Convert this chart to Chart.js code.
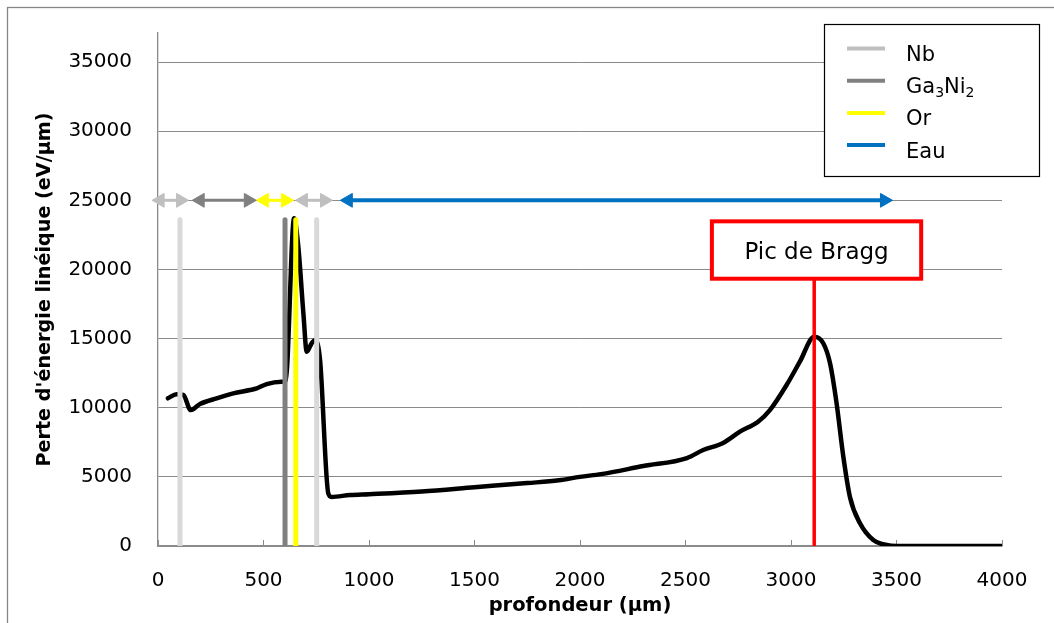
<!DOCTYPE html>
<html><head><meta charset="utf-8">
<script src="https://cdn.jsdelivr.net/npm/chart.js@4.4.1/dist/chart.umd.min.js"></script>
<style>html,body{margin:0;padding:0;background:#fff;}canvas{display:block;}</style>
</head><body>
<canvas id="c" width="1054" height="623"></canvas>
<script>
// ---- data ----
const depthUm = [47, 88, 120, 155, 199, 278, 357, 436, 468, 515, 586, 605, 645, 665, 689, 705, 728, 745, 768, 807, 823, 910, 1000, 1250, 1500, 1750, 1900, 2000, 2100, 2300, 2507, 2584, 2678, 2758, 2844, 2900, 2979, 3042, 3110, 3153, 3185, 3216, 3248, 3279, 3327, 3390, 3453, 3500, 4000];
const energyLoss = [10680, 10970, 10920, 9830, 10270, 10680, 11040, 11280, 11400, 11710, 11880, 11950, 23700, 21640, 16830, 14050, 14660, 14900, 13450, 3810, 3550, 3690, 3750, 3950, 4250, 4550, 4750, 5000, 5200, 5780, 6360, 6940, 7450, 8270, 8990, 9830, 11640, 13330, 15140, 14660, 13210, 10320, 6460, 3570, 1640, 430, 70, 0, 0];
const xTickValues = [0, 500, 1000, 1500, 2000, 2500, 3000, 3500, 4000];
const yTickValues = [0, 5000, 10000, 15000, 20000, 25000, 30000, 35000];
const legendLabels = ['Nb', 'Ga3Ni2', 'Or', 'Eau'];
const boundaryLayer = [0, 1, 2, 0];            // which legend entry each boundary uses
const boundaryDepth = [104, 602, 653, 752];
const boundaryTop = 23600;
const arrowLayer = [0, 1, 2, 0, 3];
const arrowFrom = [10, 200, 504, 689, 902];
const arrowTo = [107, 428, 605, 789, 3443];
const arrowLevel = 25000;
const braggDepth = 3110;
const braggLabel = 'Pic de Bragg';
const braggBoxDepth = [2625, 3617];
const braggBoxLoss = [19330, 23480];

// ---- styles ----
const FONT = 'DejaVu Sans';
const arrowColors = ['#bfbfbf', '#808080', '#ffff00', '#0070c0'];
const boundaryColors = ['#d9d9d9', '#808080', '#ffff00'];
const arrowWidths = [3, 3, 3, 4];
const GRID = '#8a8a8a';

const datasets = [];
boundaryDepth.forEach((d, i) => {
  datasets.push({
    data: [{x: d, y: 0}, {x: d, y: boundaryTop}],
    borderColor: boundaryColors[boundaryLayer[i]], borderWidth: 5,
    borderCapStyle: 'round', pointRadius: 0, order: 1
  });
});
arrowFrom.forEach((f, i) => {
  const c = arrowColors[arrowLayer[i]];
  datasets.push({
    data: [{x: f, y: arrowLevel}, {x: arrowTo[i], y: arrowLevel}],
    borderColor: c, borderWidth: arrowWidths[arrowLayer[i]],
    pointStyle: 'triangle', pointRadius: 8, pointRotation: [270, 90],
    pointBackgroundColor: c, pointBorderColor: c, pointBorderWidth: 1,
    clip: false, order: 2
  });
});
datasets.push({
  data: [{x: braggDepth, y: 0}, {x: braggDepth, y: braggBoxLoss[0]}],
  borderColor: '#ff0000', borderWidth: 3.5, pointRadius: 0, order: 2
});
datasets.push({
  data: depthUm.map((d, i) => ({x: d, y: energyLoss[i]})),
  borderColor: '#000', borderWidth: 4.5, pointRadius: 0,
  cubicInterpolationMode: 'monotone', borderJoinStyle: 'round', borderCapStyle: 'round', order: 3
});

const framePlugin = {
  id: 'frame',
  beforeDraw(chart) {
    const ctx = chart.ctx;
    ctx.save();
    ctx.fillStyle = '#fff';
    ctx.fillRect(0, 0, chart.width, chart.height);
    ctx.strokeStyle = '#868686';
    ctx.lineWidth = 1.3;
    ctx.strokeRect(7.5, 7.5, 1200, 800);
    ctx.restore();
  }
};

const braggPlugin = {
  id: 'bragg',
  afterDatasetsDraw(chart) {
    const {ctx, scales: {x, y}} = chart;
    const l = x.getPixelForValue(braggBoxDepth[0]), r = x.getPixelForValue(braggBoxDepth[1]);
    const t = y.getPixelForValue(braggBoxLoss[1]), b = y.getPixelForValue(braggBoxLoss[0]);
    ctx.save();
    ctx.fillStyle = '#fff';
    ctx.fillRect(l, t, r - l, b - t);
    ctx.strokeStyle = '#ff0000';
    ctx.lineWidth = 4;
    ctx.strokeRect(l, t, r - l, b - t);
    ctx.fillStyle = '#000';
    ctx.font = '23px "' + FONT + '"';
    ctx.textAlign = 'center';
    ctx.textBaseline = 'alphabetic';
    ctx.fillText(braggLabel, (l + r) / 2, (t + b) / 2 + 9);
    ctx.restore();
  }
};

const legendPlugin = {
  id: 'customLegend',
  afterDraw(chart) {
    const ctx = chart.ctx;
    ctx.save();
    const L = 824.5, T = 24.5, W = 215, H = 152;
    ctx.fillStyle = '#fff';
    ctx.fillRect(L, T, W, H);
    ctx.strokeStyle = '#000';
    ctx.lineWidth = 1.2;
    ctx.strokeRect(L, T, W, H);
    legendLabels.forEach((lab, i) => {
      const yl = 48.5 + i * 32.2;
      ctx.strokeStyle = arrowColors[i];
      ctx.lineWidth = 4;
      ctx.beginPath();
      ctx.moveTo(847, yl); ctx.lineTo(885, yl);
      ctx.stroke();
      let xt = 906;
      const base = 61 + i * 32.2;
      ctx.fillStyle = '#000';
      ctx.textBaseline = 'alphabetic';
      ctx.textAlign = 'left';
      const parts = lab.match(/[0-9]+|[^0-9]+/g);
      parts.forEach(p => {
        const sub = /^[0-9]+$/.test(p);
        ctx.font = (sub ? '14px' : '21px') + ' "' + FONT + '"';
        ctx.fillText(p, xt, base + (sub ? 4 : 0));
        xt += ctx.measureText(p).width;
      });
    });
    ctx.restore();
  }
};

Chart.defaults.font.family = FONT;
Chart.defaults.color = '#000';

new Chart(document.getElementById('c'), {
  type: 'line',
  data: {datasets},
  options: {
    responsive: false,
    animation: false,
    events: [],
    layout: {padding: {top: 33, right: 52, left: 0, bottom: 0}},
    plugins: {legend: {display: false}, tooltip: {enabled: false}},
    scales: {
      x: {
        type: 'linear', min: 0, max: 4000,
        afterBuildTicks: s => { s.ticks = xTickValues.map(v => ({value: v})); },
        afterFit: s => { s.height = 77; s.paddingLeft = 0; s.paddingRight = 0; },
        grid: {drawOnChartArea: false, drawTicks: true, tickLength: -6, color: GRID, lineWidth: 1},
        border: {display: true, color: GRID, width: 1.3},
        ticks: {font: {size: 20}, padding: 29, maxRotation: 0, autoSkip: false, color: '#000', callback: v => String(v)},
        title: {display: true, text: 'profondeur (µm)', font: {size: 19.5, weight: 'bold'}, padding: {top: 0, bottom: 5}, color: '#000'}
      },
      y: {
        type: 'linear', min: 0, max: 37100,
        afterBuildTicks: s => { s.ticks = yTickValues.map(v => ({value: v})); },
        afterFit: s => { s.width = 158; s.paddingTop = 0; s.paddingBottom = 0; },
        grid: {drawTicks: false, color: GRID, lineWidth: 1},
        border: {display: true, color: GRID, width: 1.3},
        ticks: {font: {size: 20}, padding: 26, color: '#000', callback: v => String(v)},
        title: {display: true, text: "Perte d'énergie linéique (eV/µm)", font: {size: 19.2, weight: 'bold'}, padding: {top: 33, bottom: 0}, color: '#000'}
      }
    }
  },
  plugins: [framePlugin, braggPlugin, legendPlugin]
});
</script>
</body></html>
